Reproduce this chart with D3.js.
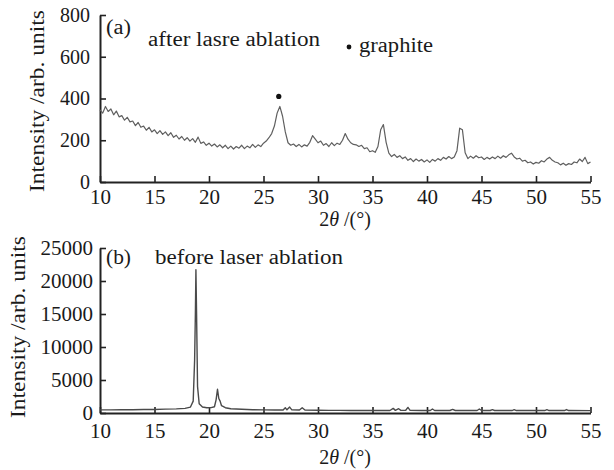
<!DOCTYPE html>
<html>
<head>
<meta charset="utf-8">
<script src="https://cdn.jsdelivr.net/npm/d3@7"></script>
<style>
  body { margin: 0; background: #fff; }
  svg text { font-family: "Liberation Serif", "Times New Roman", serif; fill: #1a1a1a; }
  .axis path, .axis line { stroke: #222; }
</style>
</head>
<body>
<div id="chart"></div>
<script>
const svgWidth = 614;
const svgHeight = 470;
const serif = "'Liberation Serif', 'Times New Roman', serif";

// x grid for the top trace: 10° to 55° every 0.25°
const afterStart = 10;
const afterStep = 0.25;
// (a) after laser ablation, intensity
const afterIntensity = [
  345, 330, 362, 338, 350, 322, 340, 312, 318, 296, 310, 288, 292, 270, 285, 262,
  268, 248, 262, 240, 250, 232, 246, 228, 240, 222, 236, 214, 224, 206, 218, 200,
  212, 196, 208, 190, 215, 185, 192, 176, 186, 172, 182, 168, 178, 164, 176, 160,
  172, 158, 170, 162, 176, 160, 172, 164, 180, 166, 178, 170, 186, 196, 212, 232,
  268, 330, 362, 315, 240, 188, 176, 182, 170, 180, 168, 178, 172, 190, 222, 205,
  188, 196, 176, 184, 170, 188, 174, 186, 180, 200, 232, 205, 188, 180, 178, 170,
  176, 160, 164, 145, 150, 142, 170, 250, 275, 190, 138, 122, 132, 118, 126, 112,
  120, 104, 112, 98, 110, 100, 108, 96, 106, 94, 108, 100, 112, 104, 118, 110,
  122, 112, 120, 150, 258, 250, 140, 112, 124, 114, 126, 116, 120, 108, 118, 110,
  120, 112, 124, 114, 126, 118, 130, 138, 120, 110, 114, 100, 104, 92, 96, 86,
  94, 90, 102, 96, 110, 118, 104, 96, 92, 82, 90, 80, 88, 84, 96, 92,
  110, 98, 118, 88, 96
];
const graphitePeak = [26.4, 410];

// (b) before laser ablation
const beforeAngle = [
  10, 11, 12, 13, 14, 15, 16, 17, 17.8, 18.3, 18.55, 18.68, 18.75, 18.8, 18.86, 18.95,
  19.1, 19.4, 19.8, 20.2, 20.5, 20.65, 20.78, 20.9, 21.02, 21.15, 21.5, 22, 23, 24, 25, 26,
  26.8, 27.0, 27.15, 27.4, 27.6, 28.3, 28.55, 28.8, 30, 31, 32, 33, 34, 36.6, 36.9, 37.1,
  37.4, 37.6, 38.05, 38.25, 38.45, 39.5, 40.3, 40.5, 40.7, 42.1, 42.35, 42.6, 44.6, 44.8, 45.0, 45.8,
  46.0, 46.2, 47.8, 48.0, 48.2, 50.8, 51.0, 51.2, 52.6, 52.8, 53.0, 55
];
const beforeIntensity = [
  480, 470, 490, 500, 520, 540, 580, 620, 700, 900, 1800, 8000, 15000, 21700, 15000, 4000,
  1400, 900, 800, 820, 950, 2000, 3600, 2200, 1800, 1100, 800, 640, 560, 500, 480, 450,
  460, 800, 480, 900, 480, 450, 800, 450, 420, 400, 400, 390, 380, 380, 700, 400,
  650, 400, 420, 850, 400, 380, 380, 600, 380, 380, 550, 380, 380, 600, 380, 380,
  500, 380, 370, 500, 370, 370, 500, 370, 370, 520, 370, 360
];

const xTicks = [10, 15, 20, 25, 30, 35, 40, 45, 50, 55];
const yTicksA = [0, 200, 400, 600, 800];
const yTicksB = [0, 5000, 10000, 15000, 20000, 25000];

const svg = d3.select("#chart")
  .append("svg")
  .attr("width", svgWidth)
  .attr("height", svgHeight);

const x = d3.scaleLinear().domain([10, 55]).range([100, 590.5]);

// plain text helper, stretched to the width it has in the picture
function label(px, py, str, size, len) {
  const t = svg.append("text")
    .attr("x", px).attr("y", py)
    .style("font-size", size + "px")
    .text(str);
  if (len) t.attr("textLength", len).attr("lengthAdjust", "spacingAndGlyphs");
  return t;
}

function drawPanel(opts) {
  const y = d3.scaleLinear().domain(opts.yDomain).range(opts.yRange);

  // x axis, ticks pointing inward
  const gx = svg.append("g")
    .attr("class", "axis")
    .attr("font-family", serif)
    .attr("transform", `translate(0, ${opts.yRange[0]})`)
    .call(d3.axisBottom(x).tickValues(xTicks).tickSizeInner(-6).tickSizeOuter(0)
      .tickPadding(opts.xPad).tickFormat(d3.format("d")));
  gx.selectAll("text").style("font-family", serif).style("font-size", "21px").attr("fill", "#1a1a1a");

  const gy = svg.append("g")
    .attr("class", "axis")
    .attr("font-family", serif)
    .attr("transform", "translate(100, 0)")
    .call(d3.axisLeft(y).tickValues(opts.yTicks).tickSizeInner(-6).tickSizeOuter(0)
      .tickPadding(opts.yPad).tickFormat(d3.format("d")));
  gy.selectAll("text").style("font-family", serif).style("font-size", opts.yFont + "px").attr("fill", "#1a1a1a");

  svg.selectAll(".axis path").attr("stroke-width", 2);
  svg.selectAll(".axis line").attr("stroke-width", 1.6);

  // curve
  svg.append("path")
    .datum(opts.values)
    .attr("fill", "none")
    .attr("stroke", opts.color)
    .attr("stroke-width", opts.lineWidth)
    .attr("stroke-linejoin", "round")
    .attr("d", d3.line().x((d, i) => x(opts.angle(i))).y(d => y(d)));

  // axis titles
  const xt = svg.append("text")
    .attr("x", 345)
    .attr("y", opts.xTitleY)
    .attr("text-anchor", "middle")
    .style("font-size", "20px");
  xt.append("tspan").text("2");
  xt.append("tspan").attr("font-style", "italic").text("θ");
  xt.append("tspan").text(" /(°)");

  svg.append("text")
    .attr("transform", `translate(${opts.yTitleX}, ${opts.yTitleY}) rotate(-90)`)
    .attr("text-anchor", "middle")
    .attr("textLength", 182)
    .attr("lengthAdjust", "spacingAndGlyphs")
    .style("font-size", "20px")
    .text("Intensity /arb. units");

  return y;
}

// panel (a)
const yA = drawPanel({
  yDomain: [0, 800], yRange: [182, 15], yTicks: yTicksA, yFont: 20,
  values: afterIntensity, angle: i => afterStart + i * afterStep,
  color: "#5f5f5f", lineWidth: 1.2, xPad: 7, yPad: 10,
  xTitleY: 226, yTitleX: 44, yTitleY: 101
});

svg.append("circle")
  .attr("cx", x(graphitePeak[0]))
  .attr("cy", yA(graphitePeak[1]))
  .attr("r", 2.6)
  .attr("fill", "#111");

label(106, 34, "(a)", 20, 25);
label(148, 46, "after lasre ablation", 20, 172);
svg.append("circle").attr("cx", 349).attr("cy", 47).attr("r", 2.4).attr("fill", "#111");
label(359, 52, "graphite", 20, 74);

// panel (b)
drawPanel({
  yDomain: [0, 25000], yRange: [413, 248], yTicks: yTicksB, yFont: 21,
  values: beforeIntensity, angle: i => beforeAngle[i],
  color: "#4a4a4a", lineWidth: 1.4, xPad: 10, yPad: 7,
  xTitleY: 464, yTitleX: 25, yTitleY: 327
});

label(106, 264, "(b)", 20, 25);
label(155, 264, "before laser ablation", 20, 188);
</script>
</body>
</html>
